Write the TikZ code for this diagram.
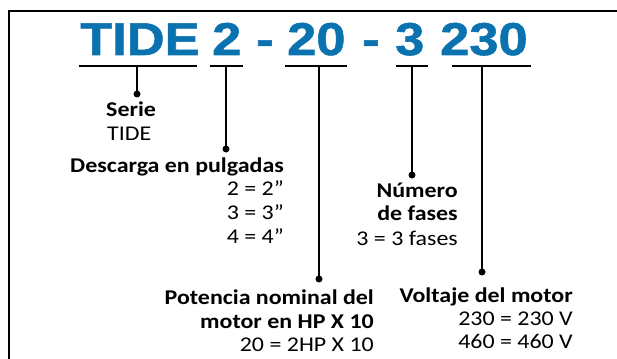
\documentclass[tikz,border=0pt]{standalone}
\usepackage{fontspec}
\setmainfont{Carlito}[FakeStretch=1.14]
\newfontfamily\titlefont{Liberation Sans}[FakeStretch=1.14,FakeBold=1.2]
\definecolor{tideblue}{HTML}{0B72B0}
\begin{document}
\begin{tikzpicture}[x=1pt,y=-1pt,
  ttl/.style={font=\titlefont\bfseries\fontsize{46}{46}\selectfont, text=tideblue, inner sep=0pt, anchor=base west},
  lbl/.style={font=\fontsize{21}{24}\selectfont, inner sep=0pt},
  hd/.style={font=\fontsize{21}{24}\selectfont\bfseries, inner sep=0pt},
  uline/.style={line width=2.4pt},
  stem/.style={line width=2.2pt},
  dotmark/.style={fill=black},
  frame/.style={line width=2.5pt}
]
\useasboundingbox (0,0) rectangle (617,358);
\draw[frame] (9,11) rectangle (660,400);

% title
\node[ttl] (tTIDE) at (80,55) {TIDE};
\node[ttl] (tA) at (212,55) {2};
\node[ttl] (tD1) at (256,55) {-};
\node[ttl] (tB) at (287,55) {20};
\node[ttl] (tD2) at (362,55) {-};
\node[ttl] (tC) at (395,55) {3};
\node[ttl] (tE) at (440,55) {230};

% underline coordinates
\coordinate (u1a) at (79,66);  \coordinate (u1b) at (197,66); \coordinate (u1m) at (137,66);
\coordinate (u2a) at (210,66); \coordinate (u2b) at (243,66); \coordinate (u2m) at (226,66);
\coordinate (u3a) at (285,66); \coordinate (u3b) at (347,66); \coordinate (u3m) at (319,66);
\coordinate (u4a) at (396,66); \coordinate (u4b) at (428,66); \coordinate (u4m) at (412,66);
\coordinate (u5a) at (452,66); \coordinate (u5b) at (531,66); \coordinate (u5m) at (482,66);

% dot coordinates
\coordinate (d1) at (137,94);
\coordinate (d2) at (226,149);
\coordinate (d3) at (319,279);
\coordinate (d4) at (412,175);
\coordinate (d5) at (482,272);

\foreach \i in {1,...,5}{
  \draw[uline] (u\i a) -- (u\i b);
  \draw[stem] (u\i m) -- (d\i);
  \fill[dotmark] (d\i) circle (3.5);
}

% labels
\node[hd, anchor=base west] (serie) at (106,117) {Serie};
\node[lbl, anchor=base west] (serieval) at (107,140) {TIDE};

\node[hd, anchor=base west] (desc) at (70,172) {Descarga en pulgadas};
\node[lbl, anchor=base east] (descA) at (284,195) {2 = 2”};
\node[lbl, anchor=base east] (descB) at (284,219) {3 = 3”};
\node[lbl, anchor=base east] (descC) at (284,243) {4 = 4”};

\node[hd, anchor=base east] (numA) at (458,197) {Número};
\node[hd, anchor=base east] (numB) at (458,220) {de fases};
\node[lbl, anchor=base east] (numC) at (458,245) {3 = 3 fases};

\node[hd, anchor=base east] (potA) at (374,304) {Potencia nominal del};
\node[hd, anchor=base east] (potB) at (374,328) {motor en HP X 10};
\node[lbl, anchor=base east] (potC) at (374,351) {20 = 2HP X 10};

\node[hd, anchor=base east] (volA) at (573,302) {Voltaje del motor};
\node[lbl, anchor=base east] (volB) at (573,325) {230 = 230 V};
\node[lbl, anchor=base east] (volC) at (573,348) {460 = 460 V};
\end{tikzpicture}
\end{document}
